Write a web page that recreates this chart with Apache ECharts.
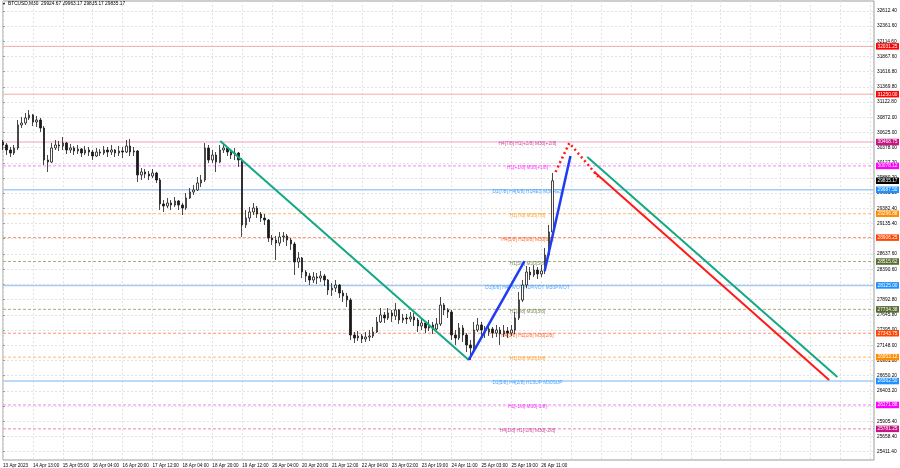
<!DOCTYPE html>
<html><head><meta charset="utf-8">
<script src="https://cdn.jsdelivr.net/npm/echarts@6/dist/echarts.min.js"></script>
<style>html,body{margin:0;padding:0;background:#fff}#c{width:900px;height:468px}</style>
</head><body><div id="c"></div>
<script>
// ---------- data ----------
const headerText = 'BTCUSD,M30  29924.67 29963.17 29835.17 29835.17';
const timeLabels = ['13 Apr 2023','14 Apr 13:00','15 Apr 05:00','16 Apr 04:00','16 Apr 20:00','17 Apr 12:00','18 Apr 04:00','18 Apr 20:00','19 Apr 12:00','20 Apr 04:00','20 Apr 20:00','21 Apr 12:00','22 Apr 04:00','23 Apr 02:00','23 Apr 19:00','24 Apr 11:00','25 Apr 03:00','25 Apr 19:00','26 Apr 11:00'];
const yTicks = [32612.40,32361.60,32114.60,31867.60,31616.80,31369.80,31122.80,30872.00,30625.00,30378.00,30127.20,29880.20,29633.20,29382.40,29135.40,28888.40,28637.60,28390.60,28143.60,27892.80,27645.80,27395.00,27148.00,26901.00,26650.20,26403.20,26156.20,25905.40,25658.40,25411.40];
// 2-hour candles [open, close, low, high]
const candles = [
[30469,30420,30338,30501],[30420,30338,30256,30452],[30338,30289,30224,30387],[30289,30371,30256,30420],
[30371,30747,30338,30828],[30747,30779,30697,30877],[30779,30861,30747,30943],[30861,30910,30828,30992],
[30910,30796,30730,30926],[30796,30828,30714,30894],[30828,30697,30632,30861],[30697,30175,30093,30730],
[30175,30142,29979,30256],[30142,30371,30126,30452],[30371,30420,30338,30501],[30420,30403,30322,30485],
[30403,30452,30338,30550],[30452,30338,30273,30469],[30338,30371,30289,30436],[30371,30322,30256,30403],
[30322,30354,30273,30420],[30354,30289,30224,30371],[30289,30338,30256,30403],[30338,30305,30240,30387],
[30305,30240,30175,30338],[30240,30305,30224,30371],[30305,30289,30240,30354],[30289,30338,30256,30403],
[30338,30305,30224,30387],[30305,30338,30256,30420],[30338,30289,30224,30354],[30289,30322,30240,30403],
[30322,30305,30207,30387],[30305,30403,30289,30501],[30403,30305,30240,30518],[30305,30322,30240,30387],
[30322,29930,29815,30338],[29930,29979,29848,30044],[29979,29946,29880,30028],[29946,29913,29848,29995],
[29913,29962,29880,30028],[29962,29848,29799,29979],[29848,29456,29358,29880],[29456,29423,29325,29521],
[29423,29472,29390,29554],[29472,29439,29358,29521],[29439,29505,29407,29570],[29505,29439,29358,29521],
[29439,29390,29276,29472],[29390,29554,29358,29635],[29554,29652,29537,29717],[29652,29685,29603,29766],
[29685,29799,29668,29897],[29799,29848,29733,29930],[29848,30371,29815,30452],[30371,30175,30126,30420],
[30175,30256,30126,30338],[30256,30142,29979,30305],[30142,30338,30126,30420],[30338,30371,30289,30436],
[30371,30305,30240,30387],[30305,30256,30191,30354],[30256,30289,30175,30371],[30289,30175,30060,30305],
[30175,29113,28917,30207],[29113,29227,29064,29358],[29227,29325,29162,29407],[29325,29390,29276,29472],
[29390,29292,29227,29423],[29292,29227,29162,29325],[29227,29194,29113,29292],[29194,28900,28835,29210],
[28900,28867,28786,28949],[28867,28818,28541,28933],[28818,28917,28769,28998],[28917,28933,28835,28998],
[28933,28867,28769,28965],[28867,28802,28704,28900],[28802,28508,28296,28835],[28508,28573,28410,28671],
[28573,28344,28246,28590],[28344,28279,28181,28377],[28279,28214,28132,28328],[28214,28263,28165,28344],
[28263,28246,28148,28328],[28246,28279,28181,28361],[28279,28214,28116,28312],[28214,28050,27969,28230],
[28050,28083,27952,28165],[28083,28132,28018,28214],[28132,28001,27920,28148],[28001,27952,27854,28050],
[27952,27887,27773,28001],[27887,27315,27233,27920],[27315,27266,27184,27364],[27266,27299,27217,27380],
[27299,27250,27184,27331],[27250,27282,27201,27364],[27282,27299,27217,27397],[27299,27364,27266,27446],
[27364,27528,27348,27609],[27528,27642,27511,27756],[27642,27593,27511,27691],[27593,27675,27560,27756],
[27675,27626,27528,27724],[27626,27724,27560,27838],[27724,27560,27495,27740],[27560,27593,27511,27658],
[27593,27577,27495,27658],[27577,27609,27528,27691],[27609,27560,27462,27675],[27560,27462,27364,27593],
[27462,27511,27397,27593],[27511,27430,27348,27528],[27430,27479,27380,27560],[27479,27413,27331,27528],
[27413,27495,27397,27593],[27495,27805,27462,27936],[27805,27724,27642,27838],[27724,27691,27593,27756],
[27691,27315,27233,27724],[27315,27266,27152,27397],[27266,27430,27233,27511],[27430,27315,27201,27479],
[27315,27152,27037,27348],[27152,27103,26907,27233],[27103,27397,27070,27528],[27397,27479,27364,27593],
[27479,27397,27299,27528],[27397,27364,27266,27462],[27364,27413,27299,27495],[27413,27348,27266,27446],
[27348,27397,27282,27479],[27397,27331,27152,27446],[27331,27380,27282,27479],[27380,27348,27266,27446],
[27348,27397,27299,27479],[27397,27593,27331,27691],[27593,27887,27560,28018],[27887,28132,27854,28214],
[28132,28344,28083,28443],[28344,28296,28214,28426],[28296,28377,28263,28459],[28377,28312,28230,28426],
[28312,28361,28263,28459],[28361,28622,28312,28737],[28622,28998,28606,29113],[28998,29835.17,28949,29963.17]
];
const lastPrice = 29835.17;
const levelPrices = [32031.25,31250.00,30468.75,30078.12,29687.50,29296.88,28906.25,28515.62,28125.00,27734.38,27343.75,26953.12,26562.50,26171.88,25781.25];
const levelTexts = ['','','H4[7/8] H1[+2/8] M30[+2/8]','H1[+1/8] M30[+1/8]','D1[7/8] H4[6/8] H1RES M30RES','H1[7/8] M30[7/8]','H4[5/8] H1[6/8] M30[6/8]','H1[5/8] M30[5/8]','D1[6/8] H4PIVOT H1PIVOT M30PIVOT','H1[3/8] M30[3/8]','H4[3/8] H1[2/8] M30[2/8]','H1[1/8] M30[1/8]','D1[5/8] H4[2/8] H1SUP M30SUP','H1[-1/8] M30[-1/8]','H4[1/8] H1[-2/8] M30[-2/8]'];
// drawn trend lines: [bar position, price]
const trendGreen = [[58.1,30485],[124.6,26907]];
const trendBlue1 = [[124.6,26907],[139.5,28524]];
const trendBlue2 = [[144.9,28361],[151.8,30240]];
const projRedDotted = [[147.8,29979],[151.5,30452],[159.3,29897]];
const projGreen = [[156.3,30224],[223.2,26629]];
const projRed = [[158.2,29979],[221.0,26580]];
const barSlots = 234;
const levelTextPos = 140.3;

// ---------- styles ----------
const levelStyles = [
 {box:'#ff0000', line:'#f3aaaa', type:'solid', w:1},
 {box:'#ff0000', line:'#f3aaaa', type:'solid', w:1},
 {box:'#c71585', line:'#f0a0c4', type:'solid', w:1},
 {box:'#ff00ff', line:'#f584f5', type:[3,2], w:1},
 {box:'#1e90ff', line:'#a6ccf5', type:'solid', w:1.5},
 {box:'#ff8c00', line:'#ffb870', type:[3,2], w:1},
 {box:'#ff4500', line:'#ff9070', type:[3,2], w:1},
 {box:'#556b2f', line:'#a4ae82', type:[3,2], w:1},
 {box:'#1e90ff', line:'#a6ccf5', type:'solid', w:1.5},
 {box:'#556b2f', line:'#a4ae82', type:[3,2], w:1},
 {box:'#ff4500', line:'#ff9070', type:[3,2], w:1},
 {box:'#ff8c00', line:'#ffb870', type:[3,2], w:1},
 {box:'#1e90ff', line:'#a6ccf5', type:'solid', w:1.5},
 {box:'#ff00ff', line:'#f584f5', type:[3,2], w:1},
 {box:'#c71585', line:'#e68cb6', type:[3,2], w:1}
];
const FONT = 'Liberation Sans';

const categories = Array.from({length: barSlots}, (_, i) => String(i));

const boxLabel = (p, bg) => ({
  name: 'b' + p, yAxis: p, lineStyle: {color: 'rgba(255,255,255,0)', width: 1},
  label: {show: true, position: 'end', distance: 2, formatter: p.toFixed(2),
    color: '#fff', backgroundColor: bg, padding: [1, 1.5, 0.5, 1.5], fontSize: 4.8, fontFamily: FONT}
});
const markData = levelPrices.map((p, i) => boxLabel(p, levelStyles[i].box));
markData.push(boxLabel(lastPrice, '#000'));

const textData = [];
levelPrices.forEach((p, i) => {
  if (levelTexts[i]) textData.push({value: [levelTextPos, p], name: levelTexts[i],
    label: {color: levelStyles[i].box}});
});

const levelSeries = levelPrices.map((p, i) => ({
  type: 'line', xAxisIndex: 1, yAxisIndex: 0, data: [[0, p], [barSlots - 1, p]],
  showSymbol: false, symbol: 'none', silent: true, animation: false, z: 1,
  lineStyle: {color: levelStyles[i].line, width: levelStyles[i].w, type: levelStyles[i].type}
}));

function lineSeries(data, color, width, type) {
  return {type: 'line', xAxisIndex: 1, yAxisIndex: 0, data, showSymbol: false, symbol: 'none',
    lineStyle: {color, width, type}, z: 6, silent: true, animation: false};
}

const chart = echarts.init(document.getElementById('c'), null, {renderer: 'canvas'});
chart.setOption({
  animation: false,
  backgroundColor: '#ffffff',
  grid: {left: 0, right: 25, top: 1, bottom: 8, show: true, borderColor: '#9c9c9c', borderWidth: 1, containLabel: false},
  xAxis: [
    {type: 'category', data: categories, boundaryGap: false,
      axisLine: {show: false}, axisTick: {show: false},
      axisLabel: {interval: (i) => i % 8 === 0 && i / 8 < timeLabels.length,
        formatter: (v, i) => timeLabels[i / 8] || '', align: 'left', fontSize: 4.6, margin: 3,
        color: '#000', fontFamily: FONT},
      splitLine: {show: true, interval: (i) => i % 8 === 0, lineStyle: {color: '#e3e3e3', type: [2, 2], width: 1}}},
    {type: 'value', min: 0, max: barSlots - 1, show: false}
  ],
  yAxis: {type: 'value', position: 'right', min: 25272.6, max: 32772.7, scale: true,
    axisLine: {show: false},
    axisTick: {show: true, customValues: yTicks, length: 2, lineStyle: {color: '#9c9c9c'}},
    axisLabel: {customValues: yTicks, formatter: (v) => v.toFixed(2), fontSize: 4.8, margin: 3,
      color: '#000', fontFamily: FONT},
    splitLine: {show: true, lineStyle: {color: '#e3e3e3', type: [2, 2], width: 1}}},
  graphic: [
    {type: 'text', left: 2, top: 2, style: {text: '\u25BC', fontSize: 4, fill: '#000'}},
    {type: 'text', left: 8, top: 1.5, style: {text: headerText, fontSize: 4.8, fill: '#000', fontFamily: FONT}}
  ],
  series: [
    ...levelSeries,
    {type: 'scatter', xAxisIndex: 1, yAxisIndex: 0, data: textData, symbolSize: 0, z: 2, silent: true,
      label: {show: true, position: 'inside', offset: [0, 2], formatter: (p) => p.name, fontSize: 4.8, fontFamily: FONT},
      markLine: {silent: true, symbol: ['none', 'none'], animation: false, data: markData}},
    {type: 'candlestick', xAxisIndex: 0, yAxisIndex: 0, data: candles, barWidth: 2, z: 3, silent: true,
      itemStyle: {color: '#ffffff', color0: '#1a1a1a', borderColor: '#1a1a1a', borderColor0: '#1a1a1a', borderWidth: 0.8}},
    lineSeries(trendGreen, '#12a884', 2, 'solid'),
    lineSeries(trendBlue1, '#1f3cf5', 2.5, 'solid'),
    lineSeries(trendBlue2, '#1f3cf5', 2.5, 'solid'),
    lineSeries(projRedDotted, '#ff1a1a', 2.5, [2, 3]),
    lineSeries(projGreen, '#12a884', 2, 'solid'),
    lineSeries(projRed, '#ff1a1a', 2, 'solid')
  ]
});
</script></body></html>
